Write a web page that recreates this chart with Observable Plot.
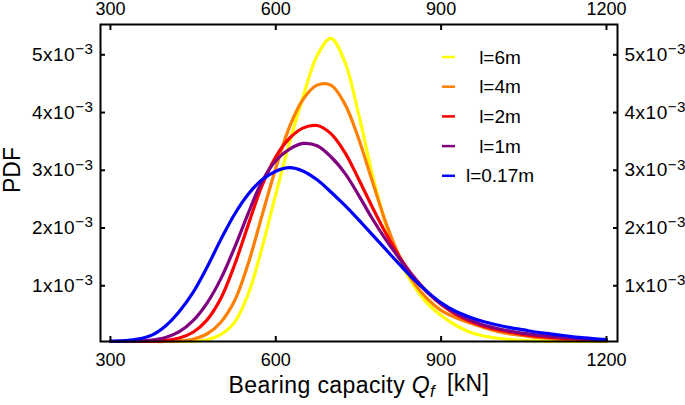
<!DOCTYPE html>
<html>
<head>
<meta charset="utf-8">
<script src="https://cdn.jsdelivr.net/npm/d3@7"></script>
<script src="https://cdn.jsdelivr.net/npm/@observablehq/plot@0.6"></script>
<style>
  html, body { margin: 0; padding: 0; background: #fff; }
  #chart svg { display: block; }
</style>
</head>
<body>
<div id="chart"></div>
<script>
// Bearing capacity Q_f [kN]
const capacity = [300,325,350,375,400,425,450,475,500,525,550,575,600,625,650,675,700,725,750,775,800,825,850,875,900,925,950,975,1000,1025,1050,1075,1100,1125,1150,1175,1200];

// PDF values, in units of 10^-3
const pdf6m = [0,0,0,0,0,0,0.005,0.03,0.12,0.33,0.82,1.62,2.55,3.45,4.25,4.95,5.25,4.85,3.95,2.90,2.02,1.40,0.97,0.66,0.45,0.29,0.17,0.10,0.06,0.035,0.02,0.012,0.007,0.004,0.002,0.001,0];
const pdf4m = [0,0,0,0,0,0.01,0.04,0.13,0.33,0.70,1.35,2.18,3.00,3.72,4.20,4.44,4.44,4.12,3.52,2.78,2.05,1.46,1.03,0.74,0.54,0.42,0.33,0.25,0.18,0.13,0.10,0.07,0.05,0.035,0.025,0.015,0.01];
const pdf2m = [0,0,0.002,0.006,0.02,0.06,0.16,0.37,0.74,1.32,2.02,2.70,3.20,3.52,3.70,3.74,3.60,3.28,2.82,2.33,1.87,1.46,1.12,0.85,0.64,0.48,0.36,0.27,0.21,0.16,0.12,0.09,0.07,0.05,0.04,0.03,0.02];
const pdf1m = [0,0.002,0.008,0.025,0.07,0.17,0.36,0.66,1.08,1.62,2.22,2.77,3.13,3.33,3.43,3.39,3.20,2.92,2.54,2.13,1.76,1.43,1.12,0.86,0.66,0.50,0.38,0.29,0.23,0.18,0.14,0.11,0.085,0.065,0.05,0.035,0.025];
const pdf017m = [0.005,0.015,0.04,0.11,0.27,0.52,0.85,1.28,1.76,2.20,2.55,2.80,2.95,3.01,2.95,2.80,2.59,2.36,2.11,1.85,1.59,1.33,1.08,0.86,0.67,0.53,0.43,0.35,0.29,0.24,0.20,0.16,0.13,0.10,0.07,0.05,0.035];

const seriesNames = ["l=6m", "l=4m", "l=2m", "l=1m", "l=0.17m"];
const seriesValues = [pdf6m, pdf4m, pdf2m, pdf1m, pdf017m];
const seriesColors = ["#ffff00", "#ff8000", "#ff0000", "#800080", "#0000ff"];

const xTicks = [300, 600, 900, 1200];
const yTicks = [1, 2, 3, 4, 5]; // x10^-3

const rows = [];
seriesNames.forEach((name, i) => {
  capacity.forEach((q, j) => rows.push({q, v: seriesValues[i][j], name}));
});

const FONT = "'Liberation Sans', Arial, Helvetica, sans-serif";

const axisCommon = {tickSize: -5, strokeWidth: 2, label: null};

const plot = Plot.plot({
  width: 685,
  height: 405,
  marginLeft: 100,
  marginRight: 68,
  marginTop: 24,
  marginBottom: 64,
  style: {fontFamily: FONT, fontSize: "18px", color: "#000", background: "#fff", overflow: "visible"},
  x: {domain: [282, 1220]},
  y: {domain: [0, 5.49]},
  color: {domain: seriesNames, range: seriesColors},
  marks: [
    Plot.line(rows, {x: "q", y: "v", z: "name", stroke: "name", strokeWidth: 3.2, curve: "catmull-rom"}),
    Plot.frame({stroke: "#000", strokeWidth: 2}),
    Plot.axisX(xTicks, {...axisCommon, fontSize: 18, anchor: "bottom", tickPadding: 17, tickFormat: d => String(d)}),
    Plot.axisX(xTicks, {...axisCommon, fontSize: 18, anchor: "top", tickPadding: 15, tickFormat: d => String(d)}),
    Plot.axisY(yTicks, {...axisCommon, fontSize: 19, anchor: "left", tickPadding: 12, dy: 2, tickFormat: d => d + "x10"}),
    Plot.axisY(yTicks, {...axisCommon, fontSize: 19, anchor: "right", tickPadding: 12, dy: 2, tickFormat: d => d + "x10"}),
    Plot.text(["Bearing capacity"], {frameAnchor: "bottom", dy: 51, fontSize: 23}),
    Plot.text(["PDF"], {frameAnchor: "left", textAnchor: "middle", dx: -88, dy: -13, rotate: -90, fontSize: 23})
  ]
});

document.getElementById("chart").appendChild(plot);

const svg = d3.select(plot);

// superscript exponents on y tick labels, italic Q_f in the x label
svg.selectAll("text").each(function() {
  const t = d3.select(this);
  const s = t.text();
  if (/^\dx10$/.test(s)) {
    t.attr("letter-spacing", "0.5px");
    t.append("tspan").attr("dy", "-0.45em").attr("font-size", "0.8em").text("\u22123");
  } else if (s === "Bearing capacity") {
    t.text(null).attr("letter-spacing", "0.4px");
    t.append("tspan").text("Bearing capacity ");
    t.append("tspan").attr("font-style", "italic").text("Q");
    t.append("tspan").attr("font-style", "italic").attr("font-size", "0.72em").attr("dy", "0.3em").text("f");
    t.append("tspan").attr("dy", "-0.3em").text("\u2009 [kN]");
  }
});

// legend
const legend = svg.append("g").attr("font-family", FONT).attr("font-size", 19);
seriesNames.forEach((name, i) => {
  const y = 57 + i * 29.7;
  legend.append("line").attr("x1", 442).attr("x2", 455).attr("y1", y).attr("y2", y)
    .attr("stroke", seriesColors[i]).attr("stroke-width", 2.5);
  legend.append("text").attr("x", 500).attr("y", y).attr("dy", "0.35em").attr("fill", "#000").text(name);
});
</script>
</body>
</html>
